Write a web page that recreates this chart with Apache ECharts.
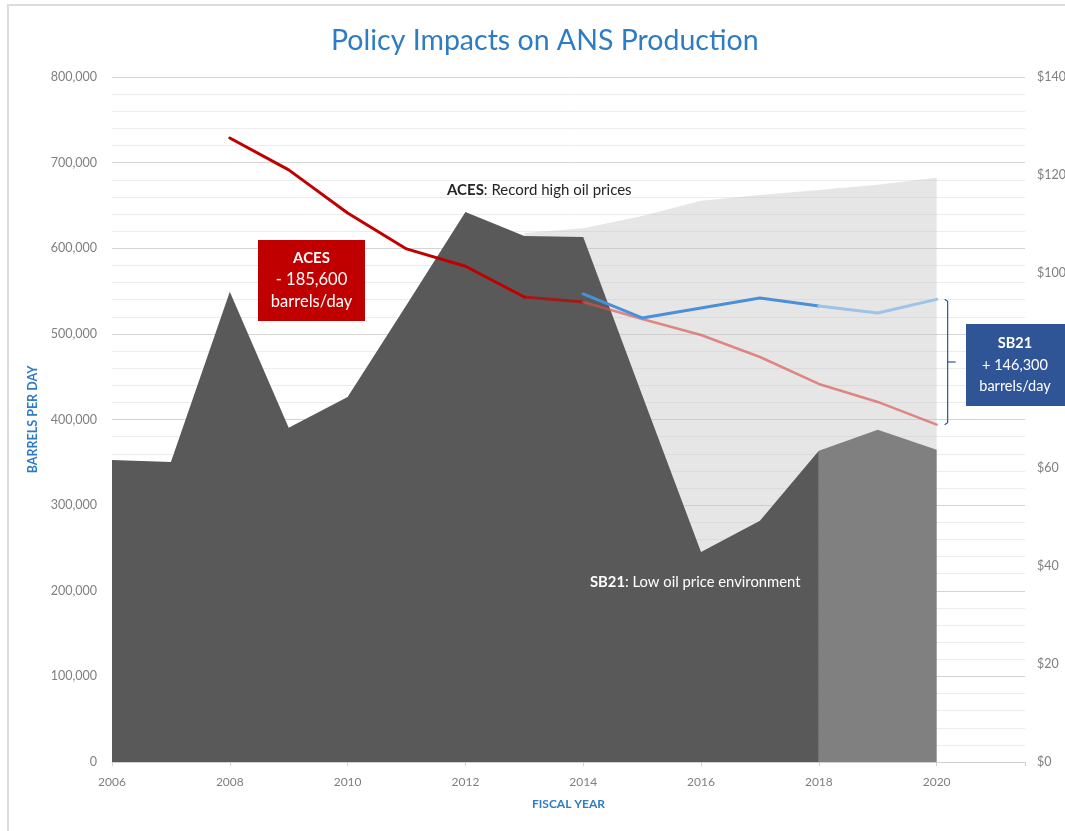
<!DOCTYPE html>
<html>
<head>
<meta charset="utf-8">
<script src="https://cdn.jsdelivr.net/npm/echarts@6/dist/echarts.min.js"></script>
<style>
    html, body { margin: 0; padding: 0; background: #fff; }
    #chart { width: 1065px; height: 831px; }
</style>
</head>
<body>
<div id="chart"></div>
<script>
// oil price ($/bbl, right axis)
const years = [2006, 2007, 2008, 2009, 2010, 2011, 2012, 2013, 2014, 2015, 2016, 2017, 2018, 2019, 2020];
const oilPrice = [61.7, 61.3, 96.1, 68.3, 74.6, 93.4, 112.4, 107.5, 107.3, 75.0, 42.9, 49.3, 63.6, 67.9, 63.8];
// record high price scenario (light gray)
const highYears = [2013, 2014, 2015, 2016, 2017, 2018, 2019, 2020];
const highPrice = [108.1, 109.1, 111.6, 114.7, 115.9, 116.9, 118.0, 119.4];
// production, barrels per day (left axis)
const acesYears = [2008, 2009, 2010, 2011, 2012, 2013, 2014, 2015, 2016, 2017, 2018, 2019, 2020];
const acesProd = [728800, 691500, 641200, 599200, 579000, 543100, 537300, 517400, 498700, 473000, 441500, 420500, 394000];
const sb21Years = [2014, 2015, 2016, 2017, 2018, 2019, 2020];
const sb21Prod = [546600, 518600, 530300, 542000, 532600, 524400, 540300];
// tick labels
const xLabels = [2006, 2008, 2010, 2012, 2014, 2016, 2018, 2020];
const leftTicks = [0, 100000, 200000, 300000, 400000, 500000, 600000, 700000, 800000];
const rightTicks = [0, 20, 40, 60, 80, 100, 120, 140];

const pts = (xs, ys) => xs.map((x, i) => [x, ys[i]]);
const oilPts = pts(years, oilPrice);
const acesPts = pts(acesYears, acesProd);
const sb21Pts = pts(sb21Years, sb21Prod);

const blue = '#2e7cc4';
const gray = '#7f7f7f';
const font = 'Lato';

let myChart = echarts.init(document.getElementById('chart'));

const area = (data, color, opacity) => ({
    type: 'line', yAxisIndex: 1, data: data, symbol: 'none',
    lineStyle: {width: 0}, areaStyle: {color: color, opacity: opacity},
    silent: true
});
const line = (data, color, width, opacity) => ({
    type: 'line', yAxisIndex: 0, data: data, symbol: 'none',
    lineStyle: {color: color, width: width, opacity: opacity, cap: 'round', join: 'round'},
    silent: true
});

let option = {
    animation: false,
    title: {
        text: 'Policy Impacts on ANS Production',
        left: 326,
        top: 21,
        textStyle: {color: blue, fontFamily: font, fontWeight: 'normal', fontSize: 28.5}
    },
    grid: {left: 112, right: 40, top: 77, bottom: 69, outerBoundsMode: 'none', containLabel: false},
    xAxis: {
        type: 'value', min: 2006, max: 2021.5, interval: 2,
        name: 'FISCAL YEAR', nameLocation: 'middle', nameGap: 36,
        nameTextStyle: {color: blue, fontFamily: font, fontWeight: 'bold', fontSize: 12},
        axisLine: {show: true, lineStyle: {color: '#d0d0d0'}},
        axisTick: {show: true, length: 4, lineStyle: {color: '#d0d0d0'}},
        axisLabel: {
            color: gray, fontFamily: font, fontSize: 12, margin: 14,
            formatter: v => xLabels.includes(v) ? String(v) : ''
        },
        splitLine: {show: false}
    },
    yAxis: [
        {
            type: 'value', min: leftTicks[0], max: leftTicks[leftTicks.length - 1], interval: 100000,
            name: 'BARRELS PER DAY', nameLocation: 'middle', nameGap: 70,
            nameTextStyle: {color: blue, fontFamily: font, fontWeight: 'bold', fontSize: 12.5},
            axisLine: {show: false}, axisTick: {show: false},
            axisLabel: {color: gray, fontFamily: font, fontSize: 12.5, margin: 15,
                formatter: v => leftTicks.includes(v) ? v.toLocaleString('en-US') : ''},
            splitLine: {show: true, lineStyle: {color: '#d4d4d4', width: 1}},
            minorTick: {show: false, splitNumber: 5},
            minorSplitLine: {show: true, lineStyle: {color: '#ececec', width: 1}}
        },
        {
            type: 'value', min: rightTicks[0], max: rightTicks[rightTicks.length - 1], interval: 20,
            axisLine: {show: false}, axisTick: {show: false},
            axisLabel: {color: gray, fontFamily: font, fontSize: 12.5, margin: 12,
                formatter: v => rightTicks.includes(v) ? '$' + v : ''},
            splitLine: {show: false}
        }
    ],
    series: [
        area(pts(highYears, highPrice), '#c8c8c8', 0.45),
        area(oilPts.slice(0, 13), '#595959', 1),
        area(oilPts.slice(12), '#808080', 1),
        line(acesPts.slice(0, 6), '#c00000', 3, 1),
        line(acesPts.slice(5, 7), '#c00000', 3, 0.7),
        line(acesPts.slice(6), '#d9534f', 2.5, 0.65),
        line(sb21Pts.slice(0, 5), '#4a90d9', 3, 1),
        line(sb21Pts.slice(4), '#9dc3e6', 3, 1)
    ]
};
myChart.setOption(option, true);

// bracket between the two 2020 values
const pTop = myChart.convertToPixel({gridIndex: 0}, sb21Pts[sb21Pts.length - 1]);
const pBot = myChart.convertToPixel({gridIndex: 0}, acesPts[acesPts.length - 1]);
const bx = pTop[0] + 11;
const mid = (pTop[1] + pBot[1]) / 2;

myChart.setOption({
    graphic: [
        {type: 'rect', shape: {x: 8, y: 5, width: 1200, height: 1000},
            style: {fill: 'none', stroke: '#dcdcdc', lineWidth: 2}, z: 0, silent: true},
        {type: 'polyline', shape: {points: [[bx - 3, pTop[1]], [bx, pTop[1] + 2], [bx, pBot[1] - 2], [bx - 3, pBot[1]]]},
            style: {stroke: '#2f5597', lineWidth: 1.2, fill: 'none'}, z: 10},
        {type: 'line', shape: {x1: bx, y1: mid, x2: bx + 8, y2: mid},
            style: {stroke: '#2f5597', lineWidth: 1.2}, z: 10},
        {type: 'text', z: 10, style: {
            x: 447, y: 190, text: '{b|ACES}: Record high oil prices',
            font: '15px ' + font, fill: '#262626', verticalAlign: 'middle',
            rich: {b: {fontWeight: 'bold', fontSize: 15, fontFamily: font, fill: '#262626'}}
        }},
        {type: 'text', z: 10, style: {
            x: 590, y: 582, text: '{b|SB21}: Low oil price environment',
            font: '14.8px ' + font, fill: '#ffffff', verticalAlign: 'middle',
            rich: {b: {fontWeight: 'bold', fontSize: 14.8, fontFamily: font, fill: '#ffffff'}}
        }},
        // ACES box
        {type: 'rect', z: 10, shape: {x: 258, y: 240, width: 107, height: 81}, style: {fill: '#c00000'}},
        {type: 'text', z: 11, style: {x: 311.5, y: 258, text: 'ACES', font: 'bold 15px ' + font, fill: '#fff', align: 'center', verticalAlign: 'middle'}},
        {type: 'text', z: 11, style: {x: 311.5, y: 280, text: '- 185,600', font: '16.5px ' + font, fill: '#fff', align: 'center', verticalAlign: 'middle'}},
        {type: 'text', z: 11, style: {x: 311.5, y: 302, text: 'barrels/day', font: '16.5px ' + font, fill: '#fff', align: 'center', verticalAlign: 'middle'}},
        // SB21 box
        {type: 'rect', z: 10, shape: {x: 966, y: 324, width: 120, height: 82}, style: {fill: '#2f5597'}},
        {type: 'text', z: 11, style: {x: 1015, y: 343, text: 'SB21', font: 'bold 14.5px ' + font, fill: '#fff', align: 'center', verticalAlign: 'middle'}},
        {type: 'text', z: 11, style: {x: 1015, y: 365, text: '+ 146,300', font: '14.5px ' + font, fill: '#fff', align: 'center', verticalAlign: 'middle'}},
        {type: 'text', z: 11, style: {x: 1015, y: 386, text: 'barrels/day', font: '14.5px ' + font, fill: '#fff', align: 'center', verticalAlign: 'middle'}}
    ]
});
</script>
</body>
</html>
